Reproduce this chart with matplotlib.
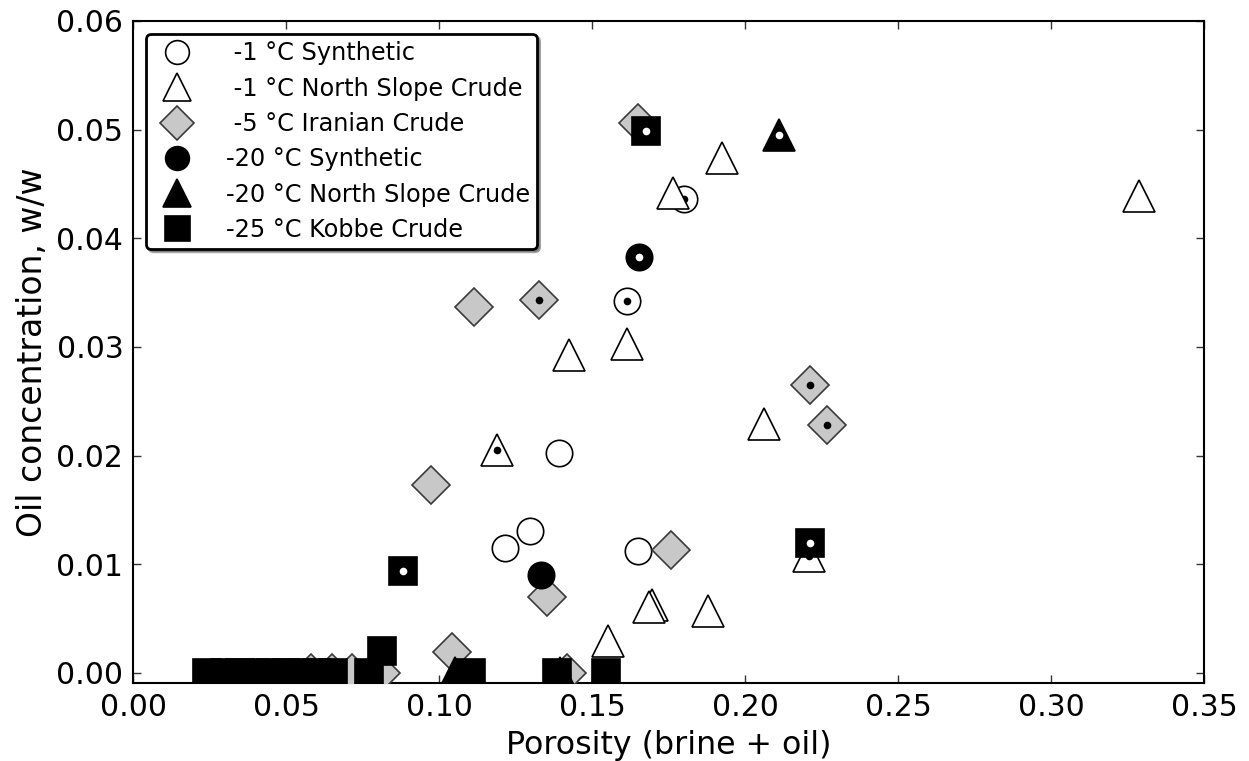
import matplotlib
matplotlib.use("Agg")
import matplotlib.pyplot as plt

# ---- data ----
syn1_x = [0.1216, 0.1297, 0.1392, 0.1650, 0.1614, 0.1801]
syn1_y = [0.0115, 0.0131, 0.0202, 0.0112, 0.0342, 0.0436]
syn1_marked = [4, 5]

nsc1_x = [0.3288, 0.1925, 0.1765, 0.1425, 0.1614, 0.1190, 0.2062, 0.2209,
          0.1879, 0.1696, 0.1686, 0.1552]
nsc1_y = [0.0439, 0.0474, 0.0442, 0.0293, 0.0303, 0.0205, 0.0229, 0.0108,
          0.0057, 0.0063, 0.0061, 0.0029]
nsc1_marked = [5, 7]

ira5_x = [0.1650, 0.1114, 0.1327, 0.0974, 0.2212, 0.2268, 0.1758, 0.1353,
          0.1042, 0.0582, 0.0650, 0.0716, 0.0810, 0.1418]
ira5_y = [0.0506, 0.0337, 0.0343, 0.0173, 0.0265, 0.0228, 0.0113, 0.0070,
          0.0019, 0.0000, 0.0000, 0.0000, 0.0000, 0.0000]
ira5_marked = [2, 4, 5]

syn20_x = [0.1654, 0.1333]
syn20_y = [0.0383, 0.0090]
syn20_marked = [0]

nsc20_x = [0.2111, 0.1052, 0.1395]
nsc20_y = [0.0495, 0.0000, 0.0000]
nsc20_marked = [0]

kob25_x = [0.1676, 0.0882, 0.2212, 0.0242, 0.0300, 0.0350, 0.0400, 0.0450,
           0.0500, 0.0550, 0.0600, 0.0654, 0.0771, 0.0814, 0.1105, 0.1387,
           0.1546]
kob25_y = [0.0499, 0.0094, 0.0120, 0.0000, 0.0000, 0.0000, 0.0000, 0.0000,
           0.0000, 0.0000, 0.0000, 0.0000, 0.0000, 0.0020, 0.0000, 0.0000,
           0.0000]
kob25_marked = [0, 1, 2]

labels = [" -1 \u00b0C Synthetic", " -1 \u00b0C North Slope Crude",
          " -5 \u00b0C Iranian Crude", "-20 \u00b0C Synthetic",
          "-20 \u00b0C North Slope Crude", "-25 \u00b0C Kobbe Crude"]

x_ticks = [0.00, 0.05, 0.10, 0.15, 0.20, 0.25, 0.30, 0.35]
y_ticks = [0.00, 0.01, 0.02, 0.03, 0.04, 0.05, 0.06]

# ---- figure ----
fig = plt.figure(figsize=(12.49, 7.61), dpi=100)
ax = fig.add_axes([0.1065, 0.1025, 0.8575, 0.870])

series = [
    (syn1_x, syn1_y, syn1_marked, dict(marker='o', ms=19, mfc='white', mec='black', mew=1.2), 'black'),
    (nsc1_x, nsc1_y, nsc1_marked, dict(marker='^', ms=23, mfc='white', mec='black', mew=1.2), 'black'),
    (ira5_x, ira5_y, ira5_marked, dict(marker='D', ms=19, mfc='#c8c8c8', mec='#3a3a3a', mew=1.2), 'black'),
    (syn20_x, syn20_y, syn20_marked, dict(marker='o', ms=19, mfc='black', mec='black', mew=1.2), 'white'),
    (nsc20_x, nsc20_y, nsc20_marked, dict(marker='^', ms=23, mfc='black', mec='black', mew=1.2), 'white'),
    (kob25_x, kob25_y, kob25_marked, dict(marker='s', ms=20, mfc='black', mec='black', mew=1.2), 'white'),
]

handles = []
z = 3
for (xs, ys, marked, style, dotc), lab in zip(series, labels):
    h, = ax.plot(xs, ys, linestyle='none', label=lab, zorder=z, **style)
    handles.append(h)
    mx = [xs[i] for i in marked]
    my = [ys[i] for i in marked]
    ax.plot(mx, my, linestyle='none', marker='o', ms=5.5, mfc=dotc, mec=dotc,
            mew=0, zorder=z + 0.5)
    z += 1

ax.set_xlim(0.0, 0.35)
ax.set_ylim(-0.00092, 0.06)
ax.set_xticks(x_ticks)
ax.set_yticks(y_ticks)
ax.set_xticklabels(["%.2f" % v for v in x_ticks])
ax.set_yticklabels(["%.2f" % v for v in y_ticks])
ax.tick_params(direction='in', length=6, width=1, labelsize=21.5,
               top=True, right=True, color='#333333')
ax.tick_params(axis='x', pad=7)
ax.tick_params(axis='y', pad=7)
for sp in ax.spines.values():
    sp.set_linewidth(1.5)

ax.set_xlabel("Porosity (brine + oil)", fontsize=22.8, labelpad=6)
ax.set_ylabel("Oil concentration, w/w", fontsize=23.8, labelpad=5)

leg = ax.legend(handles=handles, loc='upper left', numpoints=1, fontsize=17.3,
                fancybox=True, shadow=True, markerscale=0.9,
                borderaxespad=0.55, handletextpad=1.0, labelspacing=0.47,
                borderpad=0.3, framealpha=1)
leg.get_frame().set_edgecolor('black')
leg.get_frame().set_linewidth(2)

fig.savefig("out.png", dpi=100)
